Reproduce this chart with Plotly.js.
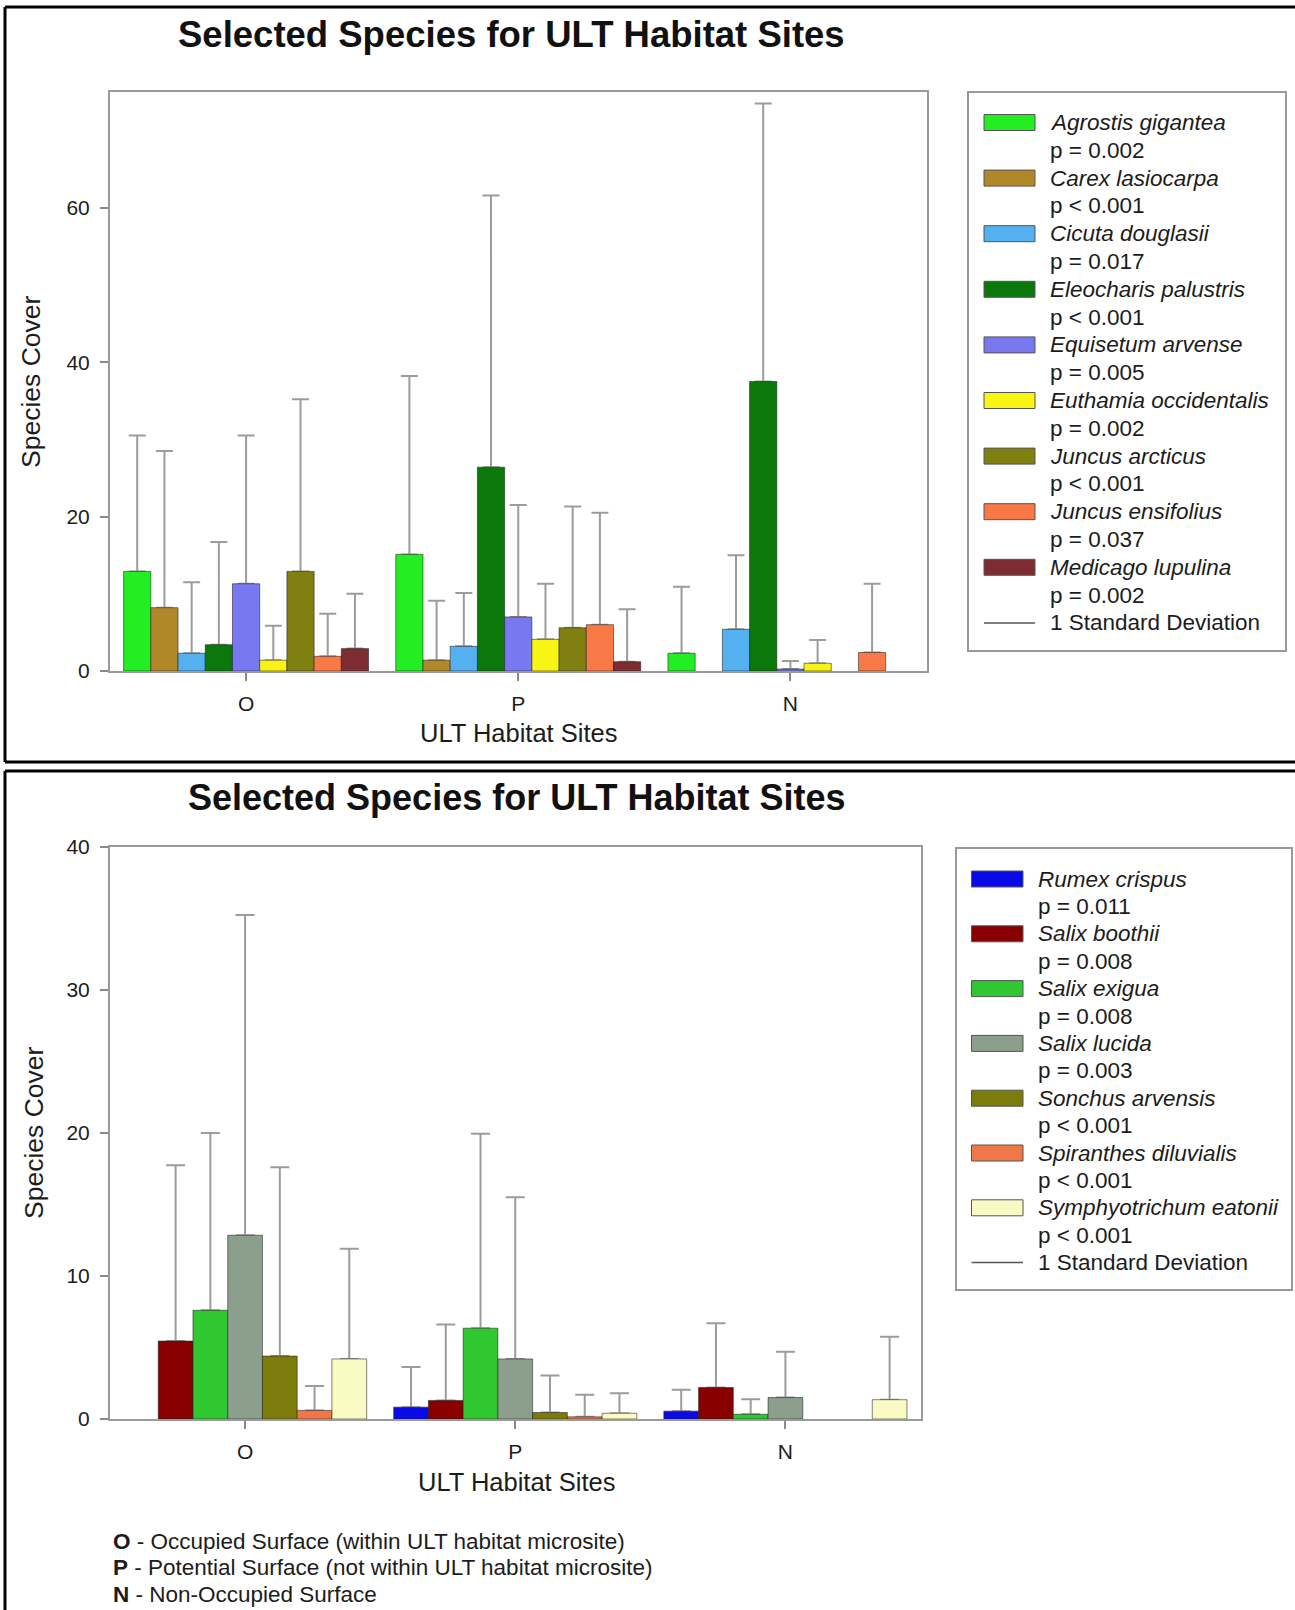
<!DOCTYPE html>
<html>
<head>
<meta charset="utf-8">
<script src="https://cdn.plot.ly/plotly-3.0.1.min.js"></script>
<style>
html,body{margin:0;padding:0;background:#fff;}
#chart{width:1295px;height:1610px;}
</style>
</head>
<body>
<div id="chart"></div>
<script>
// ---------------- DATA ----------------
const sites = ['O', 'P', 'N'];

// Upper chart
const speciesTop = ['Agrostis gigantea', 'Carex lasiocarpa', 'Cicuta douglasii', 'Eleocharis palustris',
  'Equisetum arvense', 'Euthamia occidentalis', 'Juncus arcticus', 'Juncus ensifolius', 'Medicago lupulina'];
const pTop = ['p = 0.002', 'p < 0.001', 'p = 0.017', 'p < 0.001', 'p = 0.005', 'p = 0.002', 'p < 0.001', 'p = 0.037', 'p = 0.002'];
const meanAgrostis   = [12.9, 15.1, 2.3];
const meanCarex      = [8.2, 1.4, null];
const meanCicuta     = [2.3, 3.2, 5.4];
const meanEleocharis = [3.4, 26.4, 37.5];
const meanEquisetum  = [11.3, 7.0, 0.25];
const meanEuthamia   = [1.4, 4.1, 1.0];
const meanJArcticus  = [12.9, 5.6, null];
const meanJEnsifolius= [1.9, 6.0, 2.4];
const meanMedicago   = [2.9, 1.2, null];
const sdAgrostis     = [17.6, 23.1, 8.6];
const sdCarex        = [20.3, 7.7, null];
const sdCicuta       = [9.2, 6.9, 9.6];
const sdEleocharis   = [13.3, 35.2, 36.0];
const sdEquisetum    = [19.2, 14.5, 1.05];
const sdEuthamia     = [4.45, 7.2, 3.0];
const sdJArcticus    = [22.3, 15.7, null];
const sdJEnsifolius  = [5.5, 14.5, 8.9];
const sdMedicago     = [7.1, 6.8, null];

// Lower chart
const speciesBot = ['Rumex crispus', 'Salix boothii', 'Salix exigua', 'Salix lucida',
  'Sonchus arvensis', 'Spiranthes diluvialis', 'Symphyotrichum eatonii'];
const pBot = ['p = 0.011', 'p = 0.008', 'p = 0.008', 'p = 0.003', 'p < 0.001', 'p < 0.001', 'p < 0.001'];
const meanRumex      = [null, 0.83, 0.55];
const meanSBoothii   = [5.45, 1.3, 2.2];
const meanSExigua    = [7.6, 6.35, 0.33];
const meanSLucida    = [12.85, 4.2, 1.5];
const meanSonchus    = [4.4, 0.45, null];
const meanSpiranthes = [0.6, 0.15, null];
const meanSymph      = [4.2, 0.4, 1.35];
const sdRumex        = [null, 2.8, 1.5];
const sdSBoothii     = [12.3, 5.3, 4.5];
const sdSExigua      = [12.4, 13.6, 1.05];
const sdSLucida      = [22.4, 11.3, 3.2];
const sdSonchus      = [13.2, 2.6, null];
const sdSpiranthes   = [1.7, 1.55, null];
const sdSymph        = [7.7, 1.4, 4.4];

const yTicksTop = [0, 20, 40, 60];
const yTicksBot = [0, 10, 20, 30, 40];
const footnotes = ['<b>O</b> - Occupied Surface (within ULT habitat microsite)',
  '<b>P</b> - Potential Surface (not within ULT habitat microsite)',
  '<b>N</b> - Non-Occupied Surface'];

// ---------------- STYLE ----------------
const colorsTop = ['#22ee22', '#b08828', '#55b0f0', '#0a780a', '#7878f0', '#f8f414', '#808010', '#f87846', '#7d2d32'];
const colorsBot = ['#0a0ae6', '#880000', '#30c830', '#8c9e8c', '#7c7c0c', '#f07848', '#fafac4'];
const meansTop = [meanAgrostis, meanCarex, meanCicuta, meanEleocharis, meanEquisetum, meanEuthamia, meanJArcticus, meanJEnsifolius, meanMedicago];
const sdsTop = [sdAgrostis, sdCarex, sdCicuta, sdEleocharis, sdEquisetum, sdEuthamia, sdJArcticus, sdJEnsifolius, sdMedicago];
const meansBot = [meanRumex, meanSBoothii, meanSExigua, meanSLucida, meanSonchus, meanSpiranthes, meanSymph];
const sdsBot = [sdRumex, sdSBoothii, sdSExigua, sdSLucida, sdSonchus, sdSpiranthes, sdSymph];

const FONT = '"Liberation Sans", Arial, Helvetica, sans-serif';
const TXT = '#1c1c1c';
const W = 1295, H = 1610;
const fx = x => x / W;
const fy = y => 1 - y / H;

const traces = [];
function addSeries(names, means, sds, colors, xa, ya, capW) {
  // error-bar carriers first (transparent bars), so real bars cover the lower cap
  names.forEach((n, i) => {
    traces.push({
      type: 'bar', x: sites, y: means[i], xaxis: xa, yaxis: ya, offsetgroup: n,
      marker: {color: 'rgba(0,0,0,0)', line: {width: 0}}, showlegend: false, hoverinfo: 'skip',
      error_y: {type: 'data', symmetric: false, array: sds[i], arrayminus: sds[i].map(() => 0),
        color: '#9c9c9c', thickness: 2, width: capW}
    });
  });
  names.forEach((n, i) => {
    traces.push({
      type: 'bar', name: n, x: sites, y: means[i], xaxis: xa, yaxis: ya, offsetgroup: n,
      marker: {color: colors[i], line: {color: 'rgba(30,30,30,0.55)', width: 1}}, showlegend: false
    });
  });
}
addSeries(speciesTop, meansTop, sdsTop, colorsTop, 'x', 'y', 8.5);
addSeries(speciesBot, meansBot, sdsBot, colorsBot, 'x2', 'y2', 9.5);

const axisCommon = {
  showline: true, linecolor: '#9a9a9a', linewidth: 2, mirror: true,
  ticks: 'outside', ticklen: 8, tickwidth: 2, tickcolor: '#8a8a8a',
  showgrid: false, zeroline: false, fixedrange: true,
  tickfont: {family: FONT, size: 21, color: TXT}
};

const shapes = [];
const annotations = [];

// legends
function buildLegend(names, pvals, colors, box, firstY, step, sw0, sw1, textX) {
  shapes.push({type: 'rect', xref: 'paper', yref: 'paper', x0: fx(box[0]), x1: fx(box[1]), y0: fy(box[2]), y1: fy(box[3]),
    line: {color: '#9a9a9a', width: 2}, fillcolor: 'rgba(0,0,0,0)'});
  names.forEach((n, i) => {
    const yc = firstY + 2 * i * step;
    shapes.push({type: 'rect', xref: 'paper', yref: 'paper', x0: fx(sw0), x1: fx(sw1), y0: fy(yc - 8), y1: fy(yc + 8),
      line: {color: '#555', width: 1}, fillcolor: colors[i]});
    annotations.push({xref: 'paper', yref: 'paper', x: fx(textX), y: fy(yc), xanchor: 'left', yanchor: 'middle',
      text: '<i>' + n + '</i>', showarrow: false, font: {family: FONT, size: 22.5, color: TXT}});
    annotations.push({xref: 'paper', yref: 'paper', x: fx(textX), y: fy(yc + step), xanchor: 'left', yanchor: 'middle',
      text: pvals[i], showarrow: false, font: {family: FONT, size: 22.5, color: TXT}});
  });
  const ySD = firstY + 2 * names.length * step;
  shapes.push({type: 'line', xref: 'paper', yref: 'paper', x0: fx(sw0), x1: fx(sw1), y0: fy(ySD), y1: fy(ySD),
    line: {color: '#555', width: 1.5}});
  annotations.push({xref: 'paper', yref: 'paper', x: fx(textX), y: fy(ySD), xanchor: 'left', yanchor: 'middle',
    text: '1 Standard Deviation', showarrow: false, font: {family: FONT, size: 22.5, color: TXT}});
}
buildLegend(speciesTop, pTop, colorsTop, [968, 1286, 92, 651], 122.5, 27.8, 984, 1035, 1048);
buildLegend(speciesBot, pBot, colorsBot, [956, 1292, 848, 1290], 879, 27.4, 971.5, 1023, 1036);

// titles and axis titles
function txt(text, x, y, size, opts) {
  annotations.push(Object.assign({xref: 'paper', yref: 'paper', x: fx(x), y: fy(y), xanchor: 'center', yanchor: 'middle',
    text: text, showarrow: false, font: {family: FONT, size: size, color: TXT}}, opts || {}));
}
txt('<b>Selected Species for ULT Habitat Sites</b>', 511, 35, 36.5, {font: {family: FONT, size: 36.5, color: '#111'}});
txt('<b>Selected Species for ULT Habitat Sites</b>', 517, 797, 36, {font: {family: FONT, size: 36, color: '#111'}});
txt('ULT Habitat Sites', 518, 733, 25.5);
txt('ULT Habitat Sites', 516, 1482, 25.5);
txt('Species Cover', 31, 382, 26.5, {textangle: -90});
txt('Species Cover', 34, 1133, 26.5, {textangle: -90});
footnotes.forEach((t, i) => {
  annotations.push({xref: 'paper', yref: 'paper', x: fx(111), y: fy(1541 + i * 26.5), xanchor: 'left', yanchor: 'middle',
    text: t, showarrow: false, font: {family: FONT, size: 22.5, color: TXT}});
});

// panel frames
const frame = (x0, y0, x1, y1) => shapes.push({type: 'line', xref: 'paper', yref: 'paper',
  x0: fx(x0), y0: fy(y0), x1: fx(x1), y1: fy(y1), line: {color: '#000', width: 3}});
frame(5, 7, 1295, 7);
frame(5, 7, 5, 762);
frame(5, 762, 1295, 762);
frame(5, 771, 1295, 771);
frame(5, 771, 5, 1610);

const layout = {
  width: W, height: H,
  margin: {l: 0, r: 0, t: 0, b: 0, pad: 0},
  paper_bgcolor: '#fff', plot_bgcolor: '#fff',
  barmode: 'group', bargap: 0.1, bargroupgap: 0,
  showlegend: false,
  font: {family: FONT, color: TXT},
  xaxis: Object.assign({}, axisCommon, {domain: [fx(110), fx(926.5)], anchor: 'y', type: 'category',
    categoryorder: 'array', categoryarray: sites, range: [-0.5, 2.5], ticklabelstandoff: 5,
    tickfont: {family: FONT, size: 21, color: TXT}}),
  yaxis: Object.assign({}, axisCommon, {domain: [fy(671), fy(92)], anchor: 'x', range: [0, 75],
    tickvals: yTicksTop, ticktext: yTicksTop.map(String), ticklabelstandoff: 6}),
  xaxis2: Object.assign({}, axisCommon, {domain: [fx(110), fx(920.5)], anchor: 'y2', type: 'category',
    categoryorder: 'array', categoryarray: sites, range: [-0.5, 2.5], ticklabelstandoff: 5,
    tickfont: {family: FONT, size: 21, color: TXT}}),
  yaxis2: Object.assign({}, axisCommon, {domain: [fy(1419), fy(847)], anchor: 'x2', range: [0, 40],
    tickvals: yTicksBot, ticktext: yTicksBot.map(String), ticklabelstandoff: 6}),
  shapes: shapes,
  annotations: annotations
};

Plotly.newPlot('chart', traces, layout, {staticPlot: true, displayModeBar: false});
</script>
</body>
</html>
